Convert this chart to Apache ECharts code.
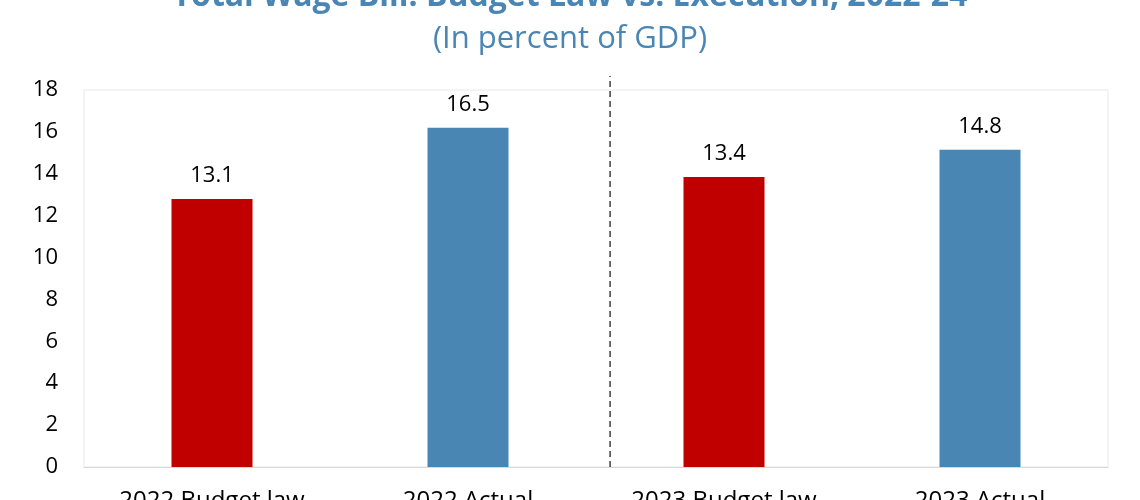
<!DOCTYPE html>
<html><head><meta charset="utf-8">
<script src="https://cdn.jsdelivr.net/npm/echarts@6/dist/echarts.min.js"></script>
<style>html,body{margin:0;padding:0;background:#fff}#c{width:1140px;height:500px}</style>
</head><body><div id="c"></div>
<script>
const categories = ['2022 Budget law', '2022 Actual', '2023 Budget law', '2023 Actual'];
const barValues = [12.8, 16.2, 13.85, 15.15];
const labelValues = ['13.1', '16.5', '13.4', '14.8'];
const barColors = ['#C00000', '#4A86B4', '#C00000', '#4A86B4'];
const yTicks = [0, 18, 2];
const separatorX = 2.055;
const separatorTop = 18.67;

const chart = echarts.init(document.getElementById('c'));
chart.setOption({
  animation: false,
  title: [{
    text: 'Total Wage Bill: Budget Law vs. Execution, 2022-24',
    left: 'center', top: -24,
    textStyle: {fontFamily: 'Open Sans', fontSize: 32, fontWeight: 'bold', color: '#4A86B4'}
  }, {
    text: '(In percent of GDP)',
    left: 'center', top: 19,
    textStyle: {fontFamily: 'Open Sans', fontSize: 31, fontWeight: 'normal', color: '#4A86B4'}
  }],
  grid: {left: 84, right: 32, top: 90, bottom: 33, show: true, borderColor: '#e8e8e8', borderWidth: 1,
         containLabel: false, outerBoundsMode: 'none'},
  xAxis: [{
    type: 'category', data: categories,
    axisLine: {lineStyle: {color: '#d9d9d9'}},
    axisTick: {show: false},
    axisLabel: {fontFamily: 'Open Sans', fontSize: 24, color: '#000', margin: 22}
  }, {
    type: 'value', min: 0, max: 4, show: false
  }],
  yAxis: {
    type: 'value', min: yTicks[0], max: yTicks[1], interval: yTicks[2],
    splitLine: {show: false},
    axisLine: {show: false}, axisTick: {show: false},
    axisLabel: {fontFamily: 'Open Sans', fontSize: 22, color: '#000', margin: 26}
  },
  series: [{
    type: 'bar', xAxisIndex: 0, barWidth: 81,
    data: barValues.map((v, i) => ({value: v, itemStyle: {color: barColors[i]}})),
    label: {
      show: true, position: 'top', distance: 12,
      fontFamily: 'Open Sans', fontSize: 22, color: '#000',
      formatter: p => labelValues[p.dataIndex]
    }
  }, {
    type: 'line', xAxisIndex: 1, clip: false, symbol: 'none',
    data: [[separatorX, 0], [separatorX, separatorTop]],
    lineStyle: {color: '#404040', width: 1.5, type: [6, 4]}
  }]
});
</script></body></html>
